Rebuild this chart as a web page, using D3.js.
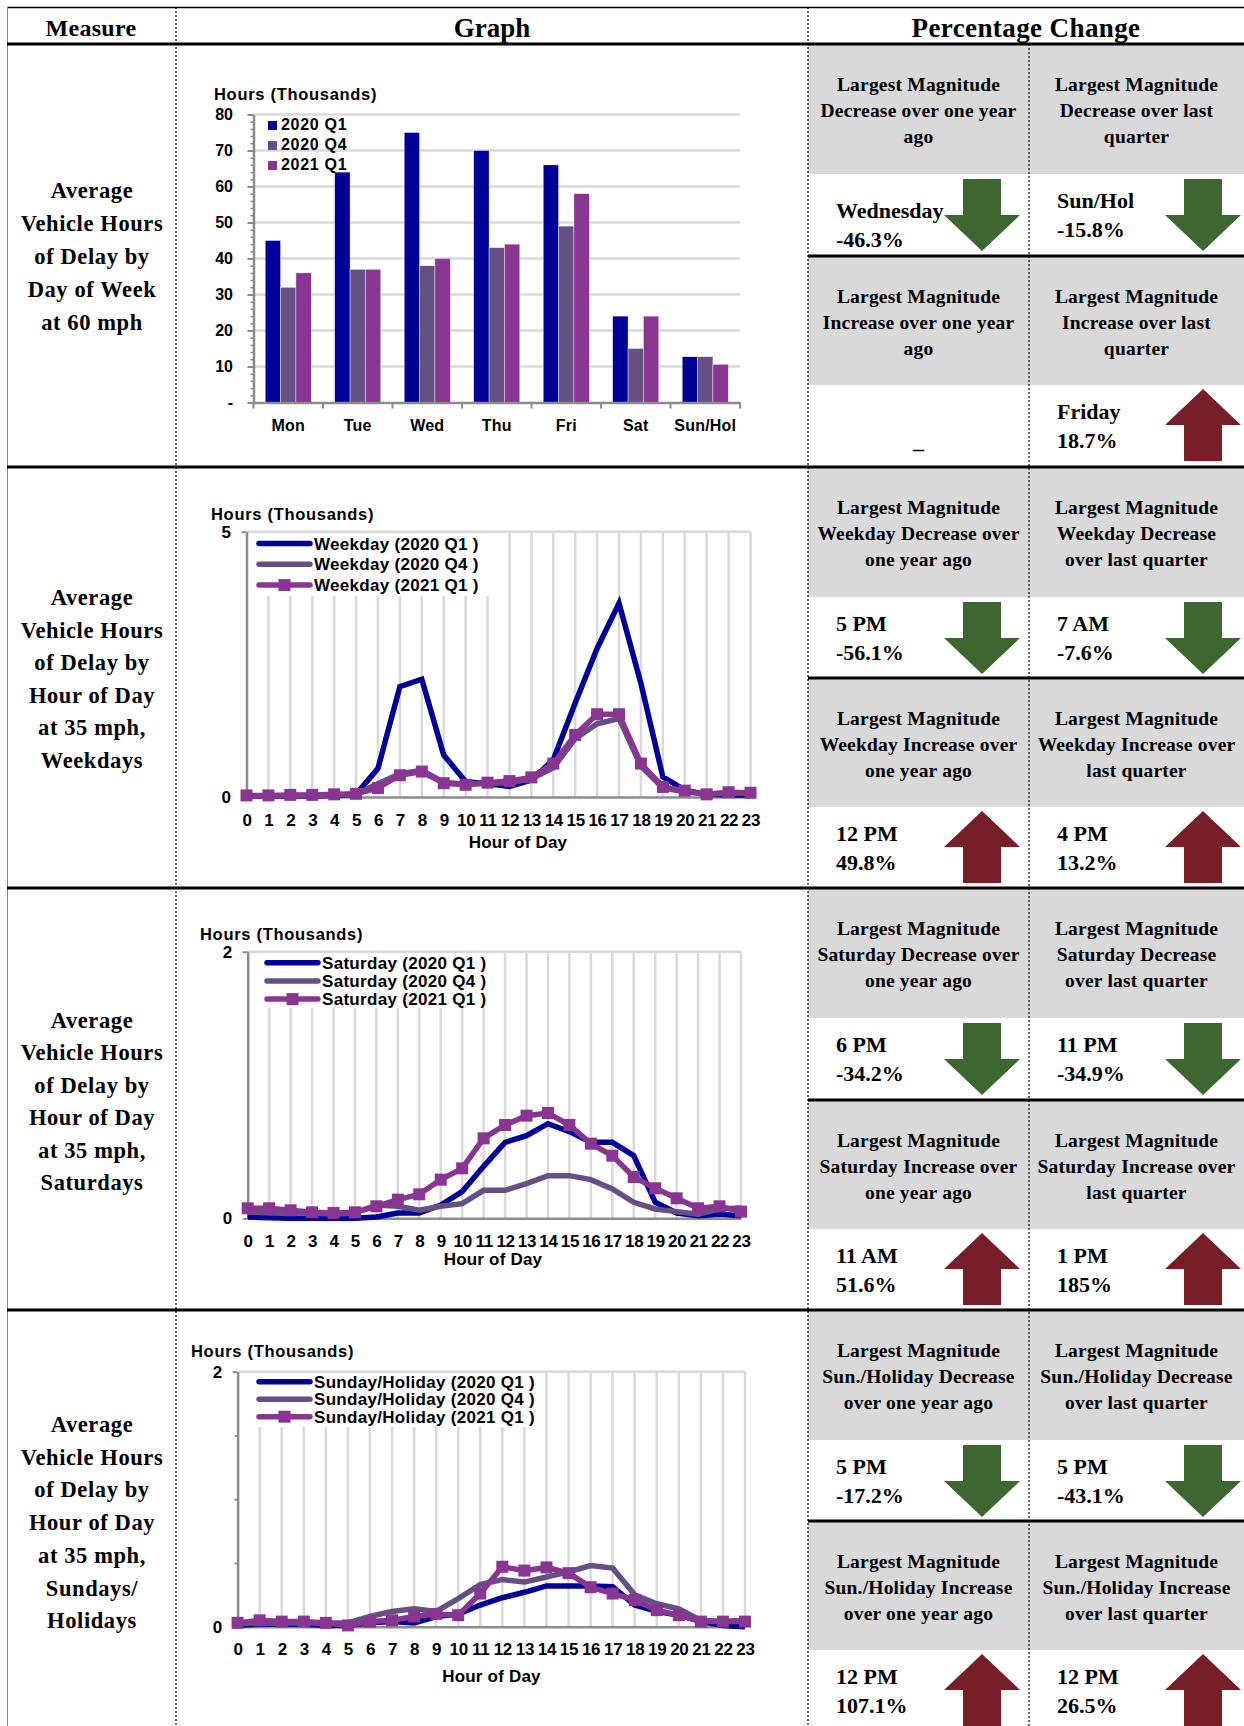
<!DOCTYPE html>
<html>
<head>
<meta charset="utf-8">
<script src="https://cdn.jsdelivr.net/npm/d3@7"></script>
<style>
  body { margin: 0; background: #fff; }
  .serif { font-family: "Liberation Serif", "Times New Roman", serif; font-weight: bold; fill: #000; }
  .sans { font-family: "Liberation Sans", Arial, sans-serif; font-weight: bold; fill: #000; }
</style>
</head>
<body>
<svg id="page" width="1244" height="1726"></svg>
<script>
// ---- data ----
const days = ["Mon", "Tue", "Wed", "Thu", "Fri", "Sat", "Sun/Hol"];
const quarters = ["2020 Q1", "2020 Q4", "2021 Q1"];
const dayQ1_2020 = [45, 64, 75, 70, 66, 24, 12.7];
const dayQ4_2020 = [32, 37, 38, 43, 49, 15, 12.7];
const dayQ1_2021 = [36, 37, 40, 44, 58, 24, 10.6];
const dayTicks = [0, 10, 20, 30, 40, 50, 60, 70, 80];

const hours = [0, 1, 2, 3, 4, 5, 6, 7, 8, 9, 10, 11, 12, 13, 14, 15, 16, 17, 18, 19, 20, 21, 22, 23];

const weekdayQ1_2020 = [0.02, 0.02, 0.02, 0.02, 0.03, 0.05, 0.54, 2.08, 2.22, 0.79, 0.29, 0.25, 0.20, 0.32, 0.70, 1.77, 2.80, 3.65, 2.14, 0.38, 0.13, 0.05, 0.04, 0.04];
const weekdayQ4_2020 = [0.02, 0.02, 0.03, 0.03, 0.04, 0.05, 0.25, 0.44, 0.50, 0.28, 0.24, 0.26, 0.27, 0.34, 0.55, 1.10, 1.38, 1.48, 0.58, 0.17, 0.10, 0.05, 0.07, 0.07];
const weekdayQ1_2021 = [0.03, 0.03, 0.04, 0.04, 0.05, 0.06, 0.17, 0.41, 0.48, 0.26, 0.23, 0.27, 0.30, 0.37, 0.63, 1.17, 1.56, 1.56, 0.63, 0.19, 0.12, 0.05, 0.09, 0.08];

const saturdayQ1_2020 = [0.01, 0.005, 0.0, 0.0, 0.0, 0.0, 0.01, 0.04, 0.04, 0.10, 0.20, 0.39, 0.57, 0.62, 0.71, 0.65, 0.57, 0.57, 0.47, 0.12, 0.04, 0.02, 0.03, 0.02];
const saturdayQ4_2020 = [0.05, 0.04, 0.04, 0.04, 0.03, 0.04, 0.10, 0.09, 0.06, 0.09, 0.11, 0.21, 0.21, 0.26, 0.32, 0.32, 0.29, 0.22, 0.12, 0.07, 0.05, 0.03, 0.07, 0.077];
const saturdayQ1_2021 = [0.075, 0.075, 0.06, 0.045, 0.04, 0.045, 0.09, 0.14, 0.18, 0.29, 0.375, 0.60, 0.70, 0.77, 0.79, 0.70, 0.56, 0.47, 0.31, 0.225, 0.15, 0.075, 0.09, 0.05];

const sundayQ1_2020 = [0.01, 0.02, 0.02, 0.02, 0.01, 0.01, 0.03, 0.04, 0.03, 0.08, 0.10, 0.17, 0.227, 0.27, 0.32, 0.32, 0.32, 0.314, 0.17, 0.12, 0.09, 0.04, 0.01, 0.0];
const sundayQ4_2020 = [0.03, 0.03, 0.03, 0.03, 0.03, 0.03, 0.08, 0.12, 0.14, 0.12, 0.22, 0.33, 0.37, 0.35, 0.39, 0.43, 0.48, 0.46, 0.25, 0.18, 0.14, 0.05, 0.04, 0.05];
const sundayQ1_2021 = [0.03, 0.05, 0.04, 0.04, 0.03, 0.01, 0.04, 0.05, 0.08, 0.10, 0.09, 0.26, 0.47, 0.44, 0.465, 0.42, 0.31, 0.26, 0.21, 0.13, 0.09, 0.04, 0.04, 0.04];

const measureLabels = [
  ["Average", "Vehicle Hours", "of Delay by", "Day of Week", "at 60 mph"],
  ["Average", "Vehicle Hours", "of Delay by", "Hour of Day", "at 35 mph,", "Weekdays"],
  ["Average", "Vehicle Hours", "of Delay by", "Hour of Day", "at 35 mph,", "Saturdays"],
  ["Average", "Vehicle Hours", "of Delay by", "Hour of Day", "at 35 mph,", "Sundays/", "Holidays"]
];

// per row: [decrease 1 yr, decrease last qtr, increase 1 yr, increase last qtr]
const changeHeads = [
  [["Largest Magnitude", "Decrease over one year", "ago"], ["Largest Magnitude", "Decrease over last", "quarter"],
   ["Largest Magnitude", "Increase over one year", "ago"], ["Largest Magnitude", "Increase over last", "quarter"]],
  [["Largest Magnitude", "Weekday Decrease over", "one year ago"], ["Largest Magnitude", "Weekday Decrease", "over last quarter"],
   ["Largest Magnitude", "Weekday Increase over", "one year ago"], ["Largest Magnitude", "Weekday Increase over", "last quarter"]],
  [["Largest Magnitude", "Saturday Decrease over", "one year ago"], ["Largest Magnitude", "Saturday Decrease", "over last quarter"],
   ["Largest Magnitude", "Saturday Increase over", "one year ago"], ["Largest Magnitude", "Saturday Increase over", "last quarter"]],
  [["Largest Magnitude", "Sun./Holiday Decrease", "over one year ago"], ["Largest Magnitude", "Sun./Holiday Decrease", "over last quarter"],
   ["Largest Magnitude", "Sun./Holiday Increase", "over one year ago"], ["Largest Magnitude", "Sun./Holiday Increase", "over last quarter"]]
];
const changeValues = [
  [["Wednesday", "-46.3%"], ["Sun/Hol", "-15.8%"], null, ["Friday", "18.7%"]],
  [["5 PM", "-56.1%"], ["7 AM", "-7.6%"], ["12 PM", "49.8%"], ["4 PM", "13.2%"]],
  [["6 PM", "-34.2%"], ["11 PM", "-34.9%"], ["11 AM", "51.6%"], ["1 PM", "185%"]],
  [["5 PM", "-17.2%"], ["5 PM", "-43.1%"], ["12 PM", "107.1%"], ["12 PM", "26.5%"]]
];

const colors = { q1_2020: "#000099", q4_2020: "#665083", q1_2021: "#893592" };

// ---- page layout ----
const svg = d3.select("#page");
const rowTops = [44, 467, 888, 1310];
const rowMids = [256, 678, 1100, 1521];
const rowBottoms = [467, 888, 1310, 1726];
const colGraph = 176, colPct = 808, colPct2 = 1029, pageRight = 1244;

// gray header blocks in the percentage panel
rowTops.forEach((t, i) => {
  svg.append("rect").attr("x", colPct).attr("y", t + 1).attr("width", pageRight - colPct).attr("height", 129).attr("fill", "#d9d9d9");
  svg.append("rect").attr("x", colPct).attr("y", rowMids[i] + 1).attr("width", pageRight - colPct).attr("height", 128).attr("fill", "#d9d9d9");
});

// header
svg.append("text").attr("class", "serif").attr("x", 91).attr("y", 36).attr("text-anchor", "middle")
  .style("font-size", "24px").style("letter-spacing", "0.3px").text("Measure");
svg.append("text").attr("class", "serif").attr("x", 492).attr("y", 37).attr("text-anchor", "middle")
  .style("font-size", "27px").text("Graph");
svg.append("text").attr("class", "serif").attr("x", 1026).attr("y", 37).attr("text-anchor", "middle")
  .style("font-size", "27px").style("letter-spacing", "0.4px").text("Percentage Change");

// measure column
const measureCenters = [[198, 33], [605, 32.6], [1028, 32.4], [1432, 32.7]];
measureLabels.forEach((lines, i) => {
  lines.forEach((s, j) => {
    svg.append("text").attr("class", "serif").attr("x", 92).attr("y", measureCenters[i][0] + j * measureCenters[i][1])
      .attr("text-anchor", "middle").style("font-size", "22.5px").style("letter-spacing", "0.6px").text(s);
  });
});

// arrows
function arrow(cx, top, down, color) {
  const hw = 38, sw = 19, h = 72, head = 36;
  let pts;
  if (down) {
    pts = [[cx - sw, top], [cx + sw, top], [cx + sw, top + h - head], [cx + hw, top + h - head], [cx, top + h],
           [cx - hw, top + h - head], [cx - sw, top + h - head]];
  } else {
    pts = [[cx, top], [cx + hw, top + head], [cx + sw, top + head], [cx + sw, top + h], [cx - sw, top + h],
           [cx - sw, top + head], [cx - hw, top + head]];
  }
  svg.append("polygon").attr("points", pts.map(p => p.join(",")).join(" ")).attr("fill", color);
}

// percentage change cells
rowTops.forEach((t, i) => {
  const cells = [
    { left: colPct, right: colPct2, head: t, white: t + 130, down: true },
    { left: colPct2, right: pageRight, head: t, white: t + 130, down: true },
    { left: colPct, right: colPct2, head: rowMids[i], white: rowMids[i] + 129, down: false },
    { left: colPct2, right: pageRight, head: rowMids[i], white: rowMids[i] + 129, down: false }
  ];
  cells.forEach((c, k) => {
    const cx = (c.left + c.right) / 2;
    changeHeads[i][k].forEach((s, j) => {
      svg.append("text").attr("class", "serif").attr("x", cx).attr("y", c.head + 47 + j * 26)
        .attr("text-anchor", "middle").style("font-size", "19.5px").style("letter-spacing", "0.2px").text(s);
    });
    const v = changeValues[i][k];
    if (v) {
      const shift = (i === 0 && k === 0) ? 10 : 0;
      v.forEach((s, j) => {
        svg.append("text").attr("class", "serif").attr("x", c.left + 28).attr("y", c.white + 34 + shift + j * 29)
          .style("font-size", "22px").text(s);
      });
      arrow(c.left + 174, c.white + (c.down ? 5 : 4), c.down, c.down ? "#3e6631" : "#761f29");
    } else {
      svg.append("text").attr("class", "serif").attr("x", cx).attr("y", c.white + 63)
        .attr("text-anchor", "middle").style("font-size", "22px").text("_");
    }
  });
});

// rules
svg.append("line").attr("x1", 7).attr("x2", pageRight).attr("y1", 7.5).attr("y2", 7.5).attr("stroke", "#000").attr("stroke-width", 1.5);
svg.append("line").attr("x1", 7.5).attr("x2", 7.5).attr("y1", 7).attr("y2", 1726).attr("stroke", "#888").attr("stroke-width", 1);
[44].concat(rowBottoms.slice(0, 3)).forEach(y => {
  svg.append("line").attr("x1", 7).attr("x2", pageRight).attr("y1", y).attr("y2", y).attr("stroke", "#000").attr("stroke-width", 3);
});
rowMids.forEach(y => {
  svg.append("line").attr("x1", colPct).attr("x2", pageRight).attr("y1", y).attr("y2", y).attr("stroke", "#000").attr("stroke-width", 3);
});
[[colGraph, 7], [colPct, 7], [colPct2, 44]].forEach(([x, y0]) => {
  svg.append("line").attr("x1", x).attr("x2", x).attr("y1", y0).attr("y2", 1726)
    .attr("stroke", "#000").attr("stroke-width", 1.2).attr("stroke-dasharray", "2,2");
});

// ---- bar chart: day of week ----
const barX = d3.scaleBand().domain(days).range([253.5, 740]);
const barInner = d3.scaleBand().domain(quarters).range([0, barX.bandwidth()]).paddingOuter(0.76);
const barY = d3.scaleLinear().domain([0, 80]).range([402.5, 114.5]);
const barSeries = [dayQ1_2020, dayQ4_2020, dayQ1_2021];
const barColors = [colors.q1_2020, colors.q4_2020, colors.q1_2021];

const bc = svg.append("g");
bc.selectAll(".grid").data(dayTicks.slice(1)).enter().append("line")
  .attr("x1", 253.5).attr("x2", 740).attr("y1", d => barY(d)).attr("y2", d => barY(d))
  .attr("stroke", "#d9d9d9").attr("stroke-width", 2.5);

quarters.forEach((q, s) => {
  bc.selectAll(".bar" + s).data(days).enter().append("rect")
    .attr("x", d => barX(d) + barInner(q))
    .attr("y", (d, i) => barY(barSeries[s][i]))
    .attr("width", barInner.bandwidth())
    .attr("height", (d, i) => barY(0) - barY(barSeries[s][i]))
    .attr("fill", barColors[s]).attr("stroke", "#fff").attr("stroke-width", 0.4);
});

// y axis
const yMinor = bc.append("g").attr("transform", "translate(253.5,0)")
  .call(d3.axisLeft(barY).tickValues(d3.range(0, 81, 2)).tickSize(3).tickFormat(""));
yMinor.select(".domain").remove();
yMinor.selectAll("line").attr("stroke", "#8c8c8c").attr("stroke-width", 1.5);
const yAx = bc.append("g").attr("transform", "translate(253.5,0)")
  .call(d3.axisLeft(barY).tickValues(dayTicks).tickSize(6).tickSizeOuter(0).tickPadding(14.5)
    .tickFormat(d => d === 0 ? "-" : d));
yAx.select(".domain").attr("stroke", "#8c8c8c").attr("stroke-width", 2.5);
yAx.selectAll("line").attr("stroke", "#8c8c8c").attr("stroke-width", 2);
yAx.selectAll("text").attr("class", "sans").style("font-size", "16px");

// x axis
const xAx = bc.append("g").attr("transform", "translate(0," + barY(0) + ")")
  .call(d3.axisBottom(barX).tickSize(0).tickPadding(17.5));
xAx.select(".domain").attr("stroke", "#8c8c8c").attr("stroke-width", 2.5);
xAx.selectAll("text").attr("class", "sans").style("font-size", "16px").style("letter-spacing", "0.2px");
bc.selectAll(".xtick").data(days.concat(["end"])).enter().append("line")
  .attr("x1", d => d === "end" ? barX.range()[1] : barX(d))
  .attr("x2", d => d === "end" ? barX.range()[1] : barX(d))
  .attr("y1", barY(0)).attr("y2", barY(0) + 6).attr("stroke", "#8c8c8c").attr("stroke-width", 2);

bc.append("text").attr("class", "sans").attr("x", 214).attr("y", 100).style("font-size", "16.5px")
  .style("letter-spacing", "0.7px").text("Hours (Thousands)");
quarters.forEach((q, s) => {
  bc.append("rect").attr("x", 268).attr("y", 121 + s * 20).attr("width", 9).attr("height", 9).attr("fill", barColors[s]);
  bc.append("text").attr("class", "sans").attr("x", 281).attr("y", 130 + s * 20).style("font-size", "16px")
    .style("letter-spacing", "0.7px").text(q);
});

// ---- line charts: hour of day ----
function lineChart(cfg) {
  const g = svg.append("g");
  const x = d3.scalePoint().domain(hours).range([cfg.x0, cfg.x1]);
  const y = d3.scaleLinear().domain([0, cfg.max]).range([cfg.yBottom, cfg.yTop]);

  g.selectAll(".vgrid").data(hours.slice(1)).enter().append("line")
    .attr("x1", d => x(d)).attr("x2", d => x(d)).attr("y1", cfg.yTop).attr("y2", cfg.yBottom)
    .attr("stroke", "#d9d9d9").attr("stroke-width", 2.5);
  g.append("line").attr("x1", cfg.x0).attr("x2", cfg.x1).attr("y1", y(cfg.max)).attr("y2", y(cfg.max))
    .attr("stroke", "#d9d9d9").attr("stroke-width", 2.5);

  const xAxis = g.append("g").attr("transform", "translate(0," + cfg.yBottom + ")")
    .call(d3.axisBottom(x).tickSize(0).tickPadding(16.5));
  xAxis.select(".domain").attr("stroke", "#8c8c8c").attr("stroke-width", 2.5);
  xAxis.selectAll("text").attr("class", "sans").style("font-size", "17px").style("letter-spacing", "-0.3px");

  if (cfg.minor) {
    const m = g.append("g").attr("transform", "translate(" + cfg.x0 + ",0)")
      .call(d3.axisLeft(y).tickValues(cfg.minor).tickSize(3).tickFormat(""));
    m.select(".domain").remove();
    m.selectAll("line").attr("stroke", "#8c8c8c").attr("stroke-width", 2);
  }
  const yAxis = g.append("g").attr("transform", "translate(" + cfg.x0 + ",0)")
    .call(d3.axisLeft(y).tickValues([0, cfg.max]).tickSize(5).tickSizeOuter(0).tickPadding(10.5)
      .tickFormat(d3.format("d")));
  yAxis.select(".domain").attr("stroke", "#8c8c8c").attr("stroke-width", 2.5);
  yAxis.selectAll("line").attr("stroke", "#8c8c8c").attr("stroke-width", 2);
  yAxis.selectAll("text").attr("class", "sans").style("font-size", "17px");

  const line = d3.line().x((d, i) => x(hours[i])).y(d => y(d));
  const styles = [colors.q1_2020, colors.q4_2020, colors.q1_2021];
  cfg.series.forEach((s, k) => {
    g.append("path").datum(s).attr("d", line).attr("fill", "none")
      .attr("stroke", styles[k]).attr("stroke-width", 5.5).attr("stroke-linejoin", "miter");
  });
  g.selectAll(".mark").data(cfg.series[2]).enter().append("rect")
    .attr("x", (d, i) => x(hours[i]) - 6).attr("y", d => y(d) - 6)
    .attr("width", 12).attr("height", 12).attr("fill", colors.q1_2021);

  g.append("text").attr("class", "sans").attr("x", cfg.title[0]).attr("y", cfg.title[1])
    .style("font-size", "16.5px").style("letter-spacing", "0.7px").text("Hours (Thousands)");
  g.append("text").attr("class", "sans").attr("x", cfg.xTitle[0]).attr("y", cfg.xTitle[1])
    .attr("text-anchor", "middle").style("font-size", "17px").style("letter-spacing", "0.2px").text("Hour of Day");

  // legend
  const L = cfg.legend;
  g.append("rect").attr("x", L.box[0]).attr("y", L.box[1]).attr("width", L.box[2]).attr("height", L.box[3]).attr("fill", "#fff");
  cfg.names.forEach((n, k) => {
    const cy = L.y0 + k * L.dy;
    g.append("line").attr("x1", L.x0).attr("x2", L.x1).attr("y1", cy).attr("y2", cy)
      .attr("stroke", styles[k]).attr("stroke-width", 5.5).attr("stroke-linecap", "round");
    if (k === 2) {
      g.append("rect").attr("x", (L.x0 + L.x1) / 2 - 6).attr("y", cy - 6).attr("width", 12).attr("height", 12).attr("fill", styles[k]);
    }
    g.append("text").attr("class", "sans").attr("x", L.x1 + 4).attr("y", cy + 6)
      .style("font-size", "17px").style("letter-spacing", "0.3px").text(n);
  });
}

lineChart({
  x0: 246.5, x1: 750.5, yTop: 531.7, yBottom: 797, max: 5,
  series: [weekdayQ1_2020, weekdayQ4_2020, weekdayQ1_2021],
  names: ["Weekday (2020 Q1 )", "Weekday (2020 Q4 )", "Weekday (2021 Q1 )"],
  title: [211, 520], xTitle: [518, 848],
  legend: { box: [254, 533, 236, 63], x0: 259, x1: 310, y0: 543.5, dy: 20.8 }
});
lineChart({
  x0: 247.7, x1: 741, yTop: 951.7, yBottom: 1218.3, max: 2,
  series: [saturdayQ1_2020, saturdayQ4_2020, saturdayQ1_2021],
  names: ["Saturday (2020 Q1 )", "Saturday (2020 Q4 )", "Saturday (2021 Q1 )"],
  title: [200, 940], xTitle: [493, 1265],
  legend: { box: [262, 953, 228, 55], x0: 267, x1: 318, y0: 962.7, dy: 18.2 }
});
lineChart({
  x0: 237.6, x1: 745, yTop: 1371.7, yBottom: 1626.7, max: 2, minor: [0.5, 1, 1.5],
  series: [sundayQ1_2020, sundayQ4_2020, sundayQ1_2021],
  names: ["Sunday/Holiday (2020 Q1 )", "Sunday/Holiday (2020 Q4 )", "Sunday/Holiday (2021 Q1 )"],
  title: [191, 1357], xTitle: [491.5, 1682],
  legend: { box: [254, 1373, 288, 54], x0: 259, x1: 310, y0: 1381.7, dy: 17.5 }
});
</script>
</body>
</html>
